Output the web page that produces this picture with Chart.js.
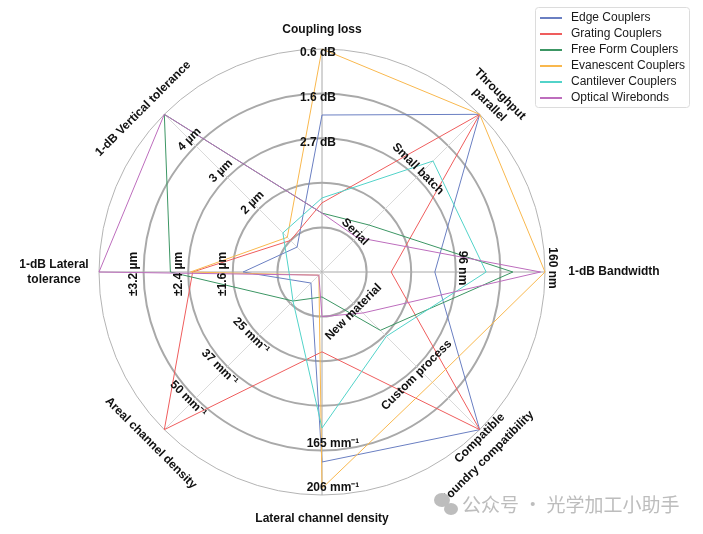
<!DOCTYPE html>
<html>
<head>
<meta charset="utf-8">
<script src="https://cdn.jsdelivr.net/npm/chart.js@4"></script>
<style>
  body { margin: 0; background: #fff; }
</style>
</head>
<body>
<canvas id="myChart" width="703" height="534"></canvas>
<script>
// axes, clockwise from the top
var categories = [
  "Coupling loss",
  ["Throughput", "parallel"],
  "1-dB Bandwidth",
  "Foundry compatibility",
  "Lateral channel density",
  "Areal channel density",
  ["1-dB Lateral", "tolerance"],
  "1-dB Vertical tolerance"
];

// values in ring units (0 = centre, 5 = outer ring)
var edgeCouplers = [3.52, 5, 2.53, 5, 4.26, 0.35, 1.77, 0.79];
var gratingCouplers = [1.55, 5, 1.55, 5, 1.79, 5, 2.9, 1.0];
var freeFormCouplers = [1.32, 1.49, 4.28, 1.85, 0.56, 0.92, 3.4, 5];
var evanescentCouplers = [5, 5, 5, 3.5, 4.85, 0.1, 2.95, 1.1];
var cantileverCouplers = [1.66, 3.52, 3.68, 2.04, 3.5, 0.92, 0.74, 1.24];
var opticalWirebonds = [1.32, 1.1, 4.9, 1.3, 1.0, 0.1, 5, 5];

var seriesNames = ["Edge Couplers", "Grating Couplers", "Free Form Couplers",
  "Evanescent Couplers", "Cantilever Couplers", "Optical Wirebonds"];
var seriesValues = [edgeCouplers, gratingCouplers, freeFormCouplers,
  evanescentCouplers, cantileverCouplers, opticalWirebonds];
var seriesColors = ["#6a7fc2", "#ef5d5d", "#3c9664", "#f9b84e", "#52d3c9", "#bd6dbd"];

// per-axis tick labels and the ring each one sits on
var tickRings = [[3, 4, 5], [1, 3], [3, 5], [1, 3, 5], [4, 5], [2, 3, 4], [2, 3, 4], [2, 3, 4]];
var tickLabels = [
  ["2.7 dB", "1.6 dB", "0.6 dB"],
  ["Serial", "Small batch"],
  ["96 nm", "160 nm"],
  ["New material", "Custom process", "Compatible"],
  ["165 mm\u207B\u00B9", "206 mm\u207B\u00B9"],
  ["25 mm\u207B\u00B9", "37 mm\u207B\u00B9", "50 mm\u207B\u00B9"],
  ["\u00B11.6 \u00B5m", "\u00B12.4 \u00B5m", "\u00B13.2 \u00B5m"],
  ["2 \u00B5m", "3 \u00B5m", "4 \u00B5m"]
];

// label placement (px)
var tickRadialShift = [-4, 7, 7, 6, -7, 6, 10, 9];
var tickAlongShift = [-4, -5, -4, -6, 11, -5, -2, 0];
var titleRadius = [242, 244, 292, 248, 247, 242, 268, 242];
var titleAlongShift = [0, 0, 0, -14, 0, 0, 0, -11];
var titleRotation = [0, 45, 0, -45, 0, 45, 0, -45];

var FONT = '"Liberation Sans", Arial, sans-serif';

function tickRotation(i) {
  var a = i * 45;
  if (a > 90 && a < 270) return a - 180;
  if (a >= 270) return a - 360;
  return a;
}

function drawRotated(ctx, text, x, y, deg) {
  ctx.save();
  ctx.translate(x, y);
  ctx.rotate(deg * Math.PI / 180);
  ctx.fillText(text, 0, 0);
  ctx.restore();
}

var radarLabels = {
  id: "radarLabels",
  afterDatasetsDraw: function (chart) {
    var scale = chart.scales.r;
    var ctx = chart.ctx;
    ctx.save();
    ctx.fillStyle = "#111";
    ctx.textAlign = "center";
    ctx.textBaseline = "middle";
    ctx.font = "bold 12px " + FONT;

    // tick labels on each spoke
    for (var i = 0; i < categories.length; i++) {
      var rot = tickRotation(i);
      var ux = Math.cos(rot * Math.PI / 180), uy = Math.sin(rot * Math.PI / 180);
      for (var k = 0; k < tickRings[i].length; k++) {
        var d = scale.getDistanceFromCenterForValue(tickRings[i][k]) + tickRadialShift[i];
        var p = scale.getPointPosition(i, d);
        drawRotated(ctx, tickLabels[i][k], p.x + ux * tickAlongShift[i], p.y + uy * tickAlongShift[i], rot);
      }
    }

    // axis titles
    for (var j = 0; j < categories.length; j++) {
      var lines = [].concat(categories[j]);
      var r = titleRotation[j] * Math.PI / 180;
      var q = scale.getPointPosition(j, titleRadius[j]);
      var cx = q.x + Math.cos(r) * titleAlongShift[j];
      var cy = q.y + Math.sin(r) * titleAlongShift[j];
      ctx.save();
      ctx.translate(cx, cy);
      ctx.rotate(r);
      var lh = 15;
      for (var m = 0; m < lines.length; m++) {
        ctx.fillText(lines[m], 0, (m - (lines.length - 1) / 2) * lh);
      }
      ctx.restore();
    }
    ctx.restore();
  },
  afterDraw: function (chart) {
    var ctx = chart.ctx;
    ctx.save();
    // legend box
    ctx.fillStyle = "#fff";
    ctx.strokeStyle = "#dcdcdc";
    ctx.lineWidth = 1;
    ctx.beginPath();
    ctx.roundRect(535.5, 7.5, 154, 100, 3);
    ctx.fill();
    ctx.stroke();
    ctx.font = "12px " + FONT;
    ctx.textBaseline = "middle";
    ctx.textAlign = "left";
    chart.data.datasets.forEach(function (ds, i) {
      var y = 18 + i * 16;
      ctx.strokeStyle = ds.borderColor;
      ctx.lineWidth = 2;
      ctx.beginPath();
      ctx.moveTo(540, y);
      ctx.lineTo(562, y);
      ctx.stroke();
      ctx.fillStyle = "#1a1a1a";
      ctx.fillText(ds.label, 571, y);
    });

    // watermark
    ctx.fillStyle = "#bdbdbd";
    ctx.beginPath();
    ctx.ellipse(442, 500, 8, 7, 0, 0, Math.PI * 2);
    ctx.fill();
    ctx.beginPath();
    ctx.ellipse(451, 509, 7, 6, 0, 0, Math.PI * 2);
    ctx.fill();
    ctx.font = '19px "Noto Sans CJK SC", sans-serif';
    ctx.fillText("\u516C\u4F17\u53F7 \u00B7 \u5149\u5B66\u52A0\u5DE5\u5C0F\u52A9\u624B", 462, 505);
    ctx.restore();
  }
};

var ctx = document.getElementById("myChart").getContext("2d");
var datasets = seriesNames.map(function (name, i) {
  return {
    label: name,
    data: seriesValues[i],
    borderColor: seriesColors[i],
    backgroundColor: "transparent",
    borderWidth: 1,
    pointRadius: 0,
    fill: false,
    order: seriesNames.length - i
  };
});

var myChart = new Chart(ctx, {
  type: "radar",
  data: { labels: categories, datasets: datasets },
  options: {
    responsive: false,
    animation: false,
    layout: { padding: { left: 99, right: 158, top: 49, bottom: 39 } },
    plugins: { legend: { display: false }, tooltip: { enabled: false } },
    elements: { line: { tension: 0 } },
    scales: {
      r: {
        min: 0,
        max: 5,
        ticks: { display: false, stepSize: 1 },
        pointLabels: { display: false },
        grid: {
          circular: true,
          color: function (c) { return c.index === 5 ? "#b4b4b4" : "#a9a9a9"; },
          lineWidth: function (c) { return c.index === 5 ? 1 : 2; }
        },
        angleLines: {
          color: function (c) { return c.index % 2 === 0 ? "#a8a8a8" : "#dadada"; },
          lineWidth: 1
        }
      }
    }
  },
  plugins: [radarLabels]
});
</script>
</body>
</html>
